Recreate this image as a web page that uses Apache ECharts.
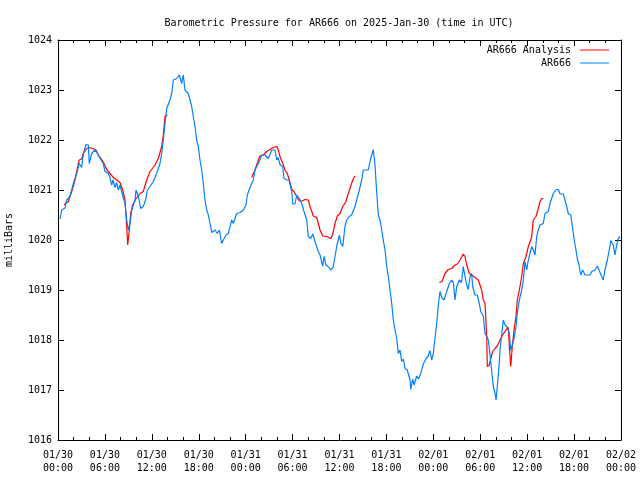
<!DOCTYPE html>
<html>
<head>
<meta charset="utf-8">
<script src="https://cdn.jsdelivr.net/npm/echarts@6/dist/echarts.min.js"></script>
<style>html,body{margin:0;padding:0;background:#fff}#c{width:640px;height:480px}</style>
</head>
<body>
<div id="c"></div>
<script>
// Hours since 2025-01-30 00:00 UTC
var obsHours = [0.26,0.47,0.9,1.11,1.53,1.96,2.39,2.72,3.03,3.24,3.58,3.88,4.0,4.31,4.73,4.99,5.37,5.79,6.01,6.43,6.65,6.87,7.03,7.29,7.51,7.71,7.93,8.15,8.35,8.57,8.79,8.99,9.21,9.43,9.63,9.85,9.98,10.27,10.58,10.91,11.25,11.42,11.77,12.19,12.62,13.04,13.26,13.47,13.68,13.9,14.32,14.54,14.75,15.18,15.51,15.82,16.02,16.24,16.66,17.1,17.3,17.52,17.74,17.94,18.16,18.38,18.58,18.8,19.02,19.22,19.44,19.66,20.08,20.37,20.63,20.94,21.14,21.49,21.78,22.21,22.42,22.85,23.28,23.7,24.04,24.21,24.55,24.98,25.19,25.62,26.05,26.47,26.9,27.33,27.75,27.97,28.14,28.41,28.74,28.9,29.25,29.54,29.89,30.02,30.31,30.53,30.86,31.17,31.46,31.81,32.01,32.32,32.57,32.87,33.08,33.29,33.51,33.85,34.02,34.27,34.53,34.88,35.17,35.43,35.64,35.98,36.19,36.41,36.7,36.92,37.25,37.54,37.77,37.98,38.2,38.49,38.84,39.04,39.68,39.9,40.12,40.32,40.54,40.76,40.96,41.18,41.4,41.6,41.82,42.04,42.24,42.46,42.68,42.88,43.1,43.32,43.52,43.74,43.95,44.16,44.38,44.67,45.02,45.11,45.36,45.53,45.87,46.1,46.39,46.72,47.06,47.36,47.57,47.79,47.99,48.21,48.43,48.64,48.85,49.07,49.37,49.71,50.05,50.35,50.56,50.77,50.99,51.32,51.6,51.83,52.05,52.27,52.47,52.69,52.9,53.03,53.33,53.62,53.88,54.06,54.39,54.61,54.83,55.03,55.25,55.47,55.67,55.89,56.02,56.18,56.4,56.53,56.74,56.95,57.17,57.46,57.72,57.9,58.15,58.32,58.57,58.74,59.0,59.3,59.51,59.72,59.94,60.15,60.36,60.58,60.78,61.0,61.22,61.42,61.64,61.86,62.06,62.28,62.7,62.92,63.17,63.34,63.69,63.98,64.2,64.62,64.84,65.06,65.26,65.57,65.82,65.99,66.24,66.41,66.63,66.85,67.1,67.4,68.04,68.26,68.68,68.97,69.19,69.53,69.74,69.95,70.25,70.5,70.68,71.01,71.23,71.45,71.66,71.87];
var obsPressure = [1020.42,1020.6,1020.64,1020.8,1020.87,1021.13,1021.33,1021.53,1021.45,1021.73,1021.91,1021.9,1021.53,1021.73,1021.8,1021.75,1021.63,1021.53,1021.37,1021.33,1021.25,1021.1,1021.2,1021.05,1021.15,1021.0,1021.1,1021.06,1020.84,1020.73,1020.4,1020.2,1020.33,1020.6,1020.7,1020.8,1021.0,1020.87,1020.63,1020.67,1020.83,1021.0,1021.07,1021.17,1021.33,1021.53,1021.73,1022.0,1022.33,1022.63,1022.8,1022.93,1023.2,1023.23,1023.3,1023.13,1023.3,1023.0,1022.93,1022.67,1022.47,1022.27,1022.0,1021.87,1021.6,1021.4,1021.13,1020.8,1020.6,1020.5,1020.33,1020.15,1020.2,1020.13,1020.2,1019.93,1020.0,1020.1,1020.13,1020.4,1020.33,1020.53,1020.55,1020.6,1020.7,1020.9,1021.05,1021.2,1021.4,1021.53,1021.7,1021.7,1021.63,1021.8,1021.8,1021.6,1021.65,1021.5,1021.47,1021.23,1021.2,1021.2,1020.97,1020.72,1020.72,1020.9,1020.83,1020.73,1020.57,1020.4,1020.07,1020.03,1020.12,1019.97,1019.87,1019.77,1019.7,1019.48,1019.67,1019.5,1019.47,1019.4,1019.45,1019.67,1019.87,1020.1,1019.93,1019.87,1020.27,1020.4,1020.47,1020.5,1020.53,1020.67,1020.8,1020.97,1021.2,1021.4,1021.4,1021.57,1021.7,1021.81,1021.5,1020.95,1020.5,1020.4,1020.2,1020.0,1019.8,1019.47,1019.27,1019.0,1018.73,1018.4,1018.2,1018.03,1017.73,1017.8,1017.57,1017.62,1017.43,1017.4,1017.2,1017.01,1017.22,1017.1,1017.28,1017.22,1017.33,1017.52,1017.63,1017.68,1017.79,1017.6,1017.72,1018.03,1018.33,1018.7,1018.97,1018.85,1018.8,1018.97,1019.13,1019.2,1019.15,1018.8,1019.07,1019.2,1019.15,1019.47,1019.27,1019.1,1019.01,1019.27,1019.33,1019.07,1018.9,1018.9,1018.73,1018.57,1018.48,1018.13,1018.07,1018.0,1017.7,1017.37,1017.07,1016.93,1016.8,1017.07,1017.47,1017.8,1018.1,1018.4,1018.3,1018.25,1018.13,1017.8,1017.93,1018.03,1018.27,1018.53,1018.8,1019.0,1019.2,1019.57,1019.4,1019.6,1019.73,1019.87,1019.8,1019.7,1020.07,1020.2,1020.3,1020.33,1020.33,1020.53,1020.57,1020.73,1020.73,1020.93,1021.01,1021.01,1020.92,1020.92,1020.9,1020.67,1020.53,1020.5,1020.23,1020.03,1019.8,1019.63,1019.5,1019.3,1019.4,1019.3,1019.3,1019.37,1019.4,1019.48,1019.4,1019.27,1019.2,1019.4,1019.6,1019.8,1019.99,1019.9,1019.7,1019.9,1020.03,1020.07];

// Analysis: three separate runs
var anaHours1 = [0.77,1.32,1.53,1.88,2.17,2.39,2.72,3.03,3.24,3.67,4.0,4.44,4.86,5.15,5.59,5.88,6.23,6.65,7.07,7.51,7.93,8.27,8.57,8.79,8.91,9.08,9.3,9.55,9.98,10.49,10.91,11.34,11.77,12.41,12.83,13.26,13.47,13.68,13.98];
var anaPressure1 = [1020.7,1020.77,1020.87,1021.03,1021.2,1021.37,1021.6,1021.62,1021.73,1021.83,1021.85,1021.83,1021.8,1021.7,1021.61,1021.53,1021.41,1021.33,1021.25,1021.2,1021.15,1021.0,1020.8,1020.27,1019.9,1020.13,1020.53,1020.7,1020.83,1020.93,1020.97,1021.2,1021.37,1021.5,1021.63,1021.87,1022.1,1022.47,1022.5];
var anaHours2 = [24.77,25.19,25.62,25.83,26.26,26.69,27.11,27.53,27.97,28.17,28.39,28.74,29.03,29.32,29.58,29.89,30.18,30.53,30.86,31.2,31.59,32.01,32.23,32.65,33.08,33.29,33.51,33.85,34.36,34.88,35.1,35.43,35.72,36.06,36.41,36.83,37.0,37.34,37.69,37.98];
var anaPressure2 = [1021.25,1021.4,1021.6,1021.68,1021.7,1021.77,1021.81,1021.85,1021.87,1021.8,1021.67,1021.53,1021.4,1021.33,1021.2,1021.01,1020.97,1020.87,1020.78,1020.78,1020.81,1020.8,1020.67,1020.48,1020.45,1020.33,1020.2,1020.08,1020.07,1020.03,1020.1,1020.33,1020.48,1020.53,1020.67,1020.77,1020.87,1021.03,1021.2,1021.28];
var anaHours3 = [48.76,49.11,49.49,49.91,50.35,50.77,51.07,51.41,51.83,52.05,52.27,52.6,52.9,53.33,53.75,53.97,54.18,54.39,54.61,54.83,54.9,55.16,55.34,55.59,55.89,56.18,56.53,56.87,57.29,57.59,57.72,57.9,58.06,58.32,58.57,58.74,59.0,59.3,59.51,59.85,60.15,60.45,60.58,60.78,61.13,61.42,61.64,61.86,62.06];
var anaPressure3 = [1019.15,1019.17,1019.33,1019.41,1019.43,1019.5,1019.52,1019.6,1019.72,1019.67,1019.5,1019.33,1019.3,1019.25,1019.2,1019.17,1019.0,1018.8,1018.73,1018.07,1017.47,1017.5,1017.63,1017.77,1017.83,1017.88,1018.0,1018.1,1018.2,1018.25,1017.87,1017.47,1017.8,1018.2,1018.47,1018.8,1019.0,1019.27,1019.53,1019.67,1019.87,1020.0,1020.07,1020.4,1020.47,1020.63,1020.77,1020.83,1020.83];

var titleText = 'Barometric Pressure for AR666 on 2025-Jan-30 (time in UTC)';
var yAxisName = 'milliBars';
var seriesNames = ['AR666 Analysis', 'AR666'];

function pairs(xs, ys) { return xs.map(function (x, i) { return [x, ys[i]]; }); }
var anaData = pairs(anaHours1, anaPressure1).concat([['-', '-']])
  .concat(pairs(anaHours2, anaPressure2)).concat([['-', '-']])
  .concat(pairs(anaHours3, anaPressure3));
var obsData = pairs(obsHours, obsPressure);

var base = Date.UTC(2025, 0, 30, 0, 0, 0);
function pad(n) { return (n < 10 ? '0' : '') + n; }
function fmtX(h) {
  var d = new Date(base + h * 3600000);
  return pad(d.getUTCMonth() + 1) + '/' + pad(d.getUTCDate()) + '\n' + pad(d.getUTCHours()) + ':' + pad(d.getUTCMinutes());
}

var FONT = 'DejaVu Sans Mono';
var chart = echarts.init(document.getElementById('c'), null, { renderer: 'canvas' });
var xCommon = {
  type: 'value', min: 0, max: 72, interval: 6,
  splitLine: { show: false },
  minorTick: { show: true, splitNumber: 3, length: 3, lineStyle: { color: '#000' } },
  axisTick: { show: true, inside: true, length: 6, lineStyle: { color: '#000' } },
  axisLine: { show: true, onZero: false, lineStyle: { color: '#000', width: 1 } }
};
var yCommon = {
  type: 'value', min: 1016, max: 1024, interval: 1,
  splitLine: { show: false },
  axisTick: { show: true, inside: true, length: 6, lineStyle: { color: '#000' } },
  axisLine: { show: true, onZero: false, lineStyle: { color: '#000', width: 1 } }
};
var legendText = { fontFamily: FONT, fontSize: 10, color: '#000', padding: [0, 4, 0, 0] };
chart.setOption({
  animation: false,
  backgroundColor: '#fff',
  textStyle: { fontFamily: FONT },
  title: {
    text: titleText, left: 334, top: 13, textAlign: 'center',
    textStyle: { fontFamily: FONT, fontSize: 10, fontWeight: 'normal', color: '#000' }
  },
  grid: { left: 58, right: 19, top: 40, bottom: 40, show: false, containLabel: false, outerBoundsMode: 'none' },
  legend: [
    { data: [seriesNames[0]], right: 31, top: 45, align: 'right', icon: 'rect', itemWidth: 29, itemHeight: 1, itemGap: 0, padding: 0,
      textStyle: legendText },
    { data: [seriesNames[1]], right: 31, top: 58, align: 'right', icon: 'rect', itemWidth: 29, itemHeight: 1, itemGap: 0, padding: 0,
      textStyle: legendText }
  ],
  xAxis: [
    Object.assign({}, xCommon, {
      position: 'bottom',
      axisLabel: { formatter: fmtX, fontFamily: FONT, fontSize: 10, color: '#000', margin: 9, lineHeight: 13 }
    }),
    Object.assign({}, xCommon, { position: 'top', axisLabel: { show: false } })
  ],
  yAxis: [
    Object.assign({}, yCommon, {
      position: 'left',
      name: yAxisName, nameLocation: 'middle', nameGap: 44, nameRotate: 90,
      nameTextStyle: { fontFamily: FONT, fontSize: 10, color: '#000' },
      axisLabel: { formatter: function (v) { return String(v); }, fontFamily: FONT, fontSize: 10, color: '#000', margin: 6 }
    }),
    Object.assign({}, yCommon, { position: 'right', axisLabel: { show: false } })
  ],
  series: [
    { name: seriesNames[0], type: 'line', data: anaData, xAxisIndex: 0, yAxisIndex: 0,
      showSymbol: false, connectNulls: false, color: '#ff0000',
      lineStyle: { color: '#ff0000', width: 1.2 }, itemStyle: { color: '#ff0000' } },
    { name: seriesNames[1], type: 'line', data: obsData, xAxisIndex: 0, yAxisIndex: 0,
      showSymbol: false, color: '#0080ff',
      lineStyle: { color: '#0080ff', width: 1.2 }, itemStyle: { color: '#0080ff' } }
  ]
});
</script>
</body>
</html>
